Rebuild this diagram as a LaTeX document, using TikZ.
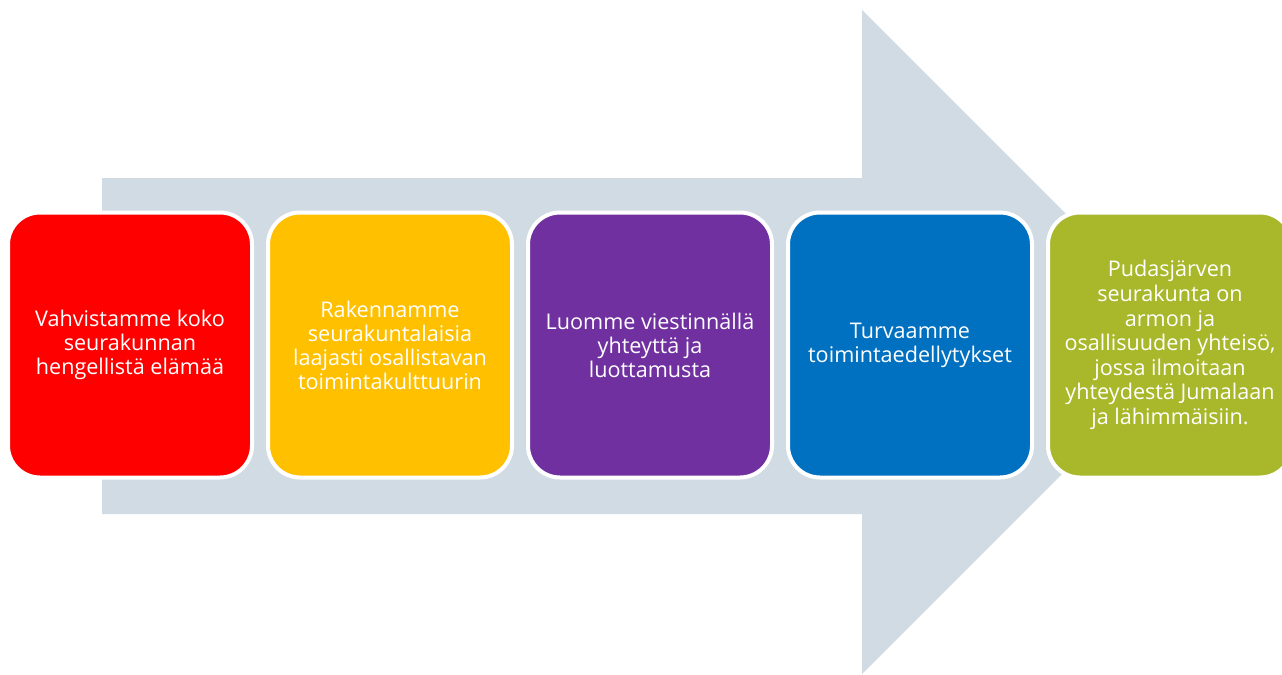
\documentclass[tikz,border=0pt]{standalone}
\usepackage{fontspec}
\setmainfont{Open Sans}
\definecolor{arrowgray}{HTML}{D1DBE4}
\definecolor{stepred}{HTML}{FF0000}
\definecolor{stepyellow}{HTML}{FFC000}
\definecolor{steppurple}{HTML}{7030A0}
\definecolor{stepblue}{HTML}{0070C0}
\definecolor{stepgreen}{HTML}{A8B82A}
\begin{document}
\begin{tikzpicture}[x=0.5pt, y=-0.5pt,
    step box/.style={rectangle, rounded corners=16pt, draw=white, line width=2pt,
        minimum width=122pt, minimum height=132.5pt, align=center, text=white,
        font=\fontsize{10.8}{12}\selectfont}]

    \clip (0,0) rectangle (1282,675);

    % Big arrow in the background
    \coordinate (shaftTL) at (102,178);
    \coordinate (shaftBL) at (102,514);
    \fill[arrowgray] (shaftTL) -- (862,178) -- (862,10) -- (1194,342)
        -- (862,674) -- (862,514) -- (shaftBL) -- cycle;

    % Steps
    \node[step box, fill=stepred] (S1) at (130,345) {Vahvistamme koko\\seurakunnan\\hengellistä elämää};
    \node[step box, fill=stepyellow] (S2) at (390,345) {Rakennamme\\seurakuntalaisia\\laajasti osallistavan\\toimintakulttuurin};
    \node[step box, fill=steppurple] (S3) at (650,345) {Luomme viestinnällä\\yhteyttä ja\\luottamusta};
    \node[step box, fill=stepblue] (S4) at (910,345) {Turvaamme\\toimintaedellytykset};
    \node[step box, fill=stepgreen, font=\fontsize{10.8}{12.3}\selectfont] (S5) at (1170,345)
        {Pudasjärven\\seurakunta on\\armon ja\\osallisuuden yhteisö,\\jossa ilmoitaan\\yhteydestä Jumalaan\\ja lähimmäisiin.};

\end{tikzpicture}
\end{document}
